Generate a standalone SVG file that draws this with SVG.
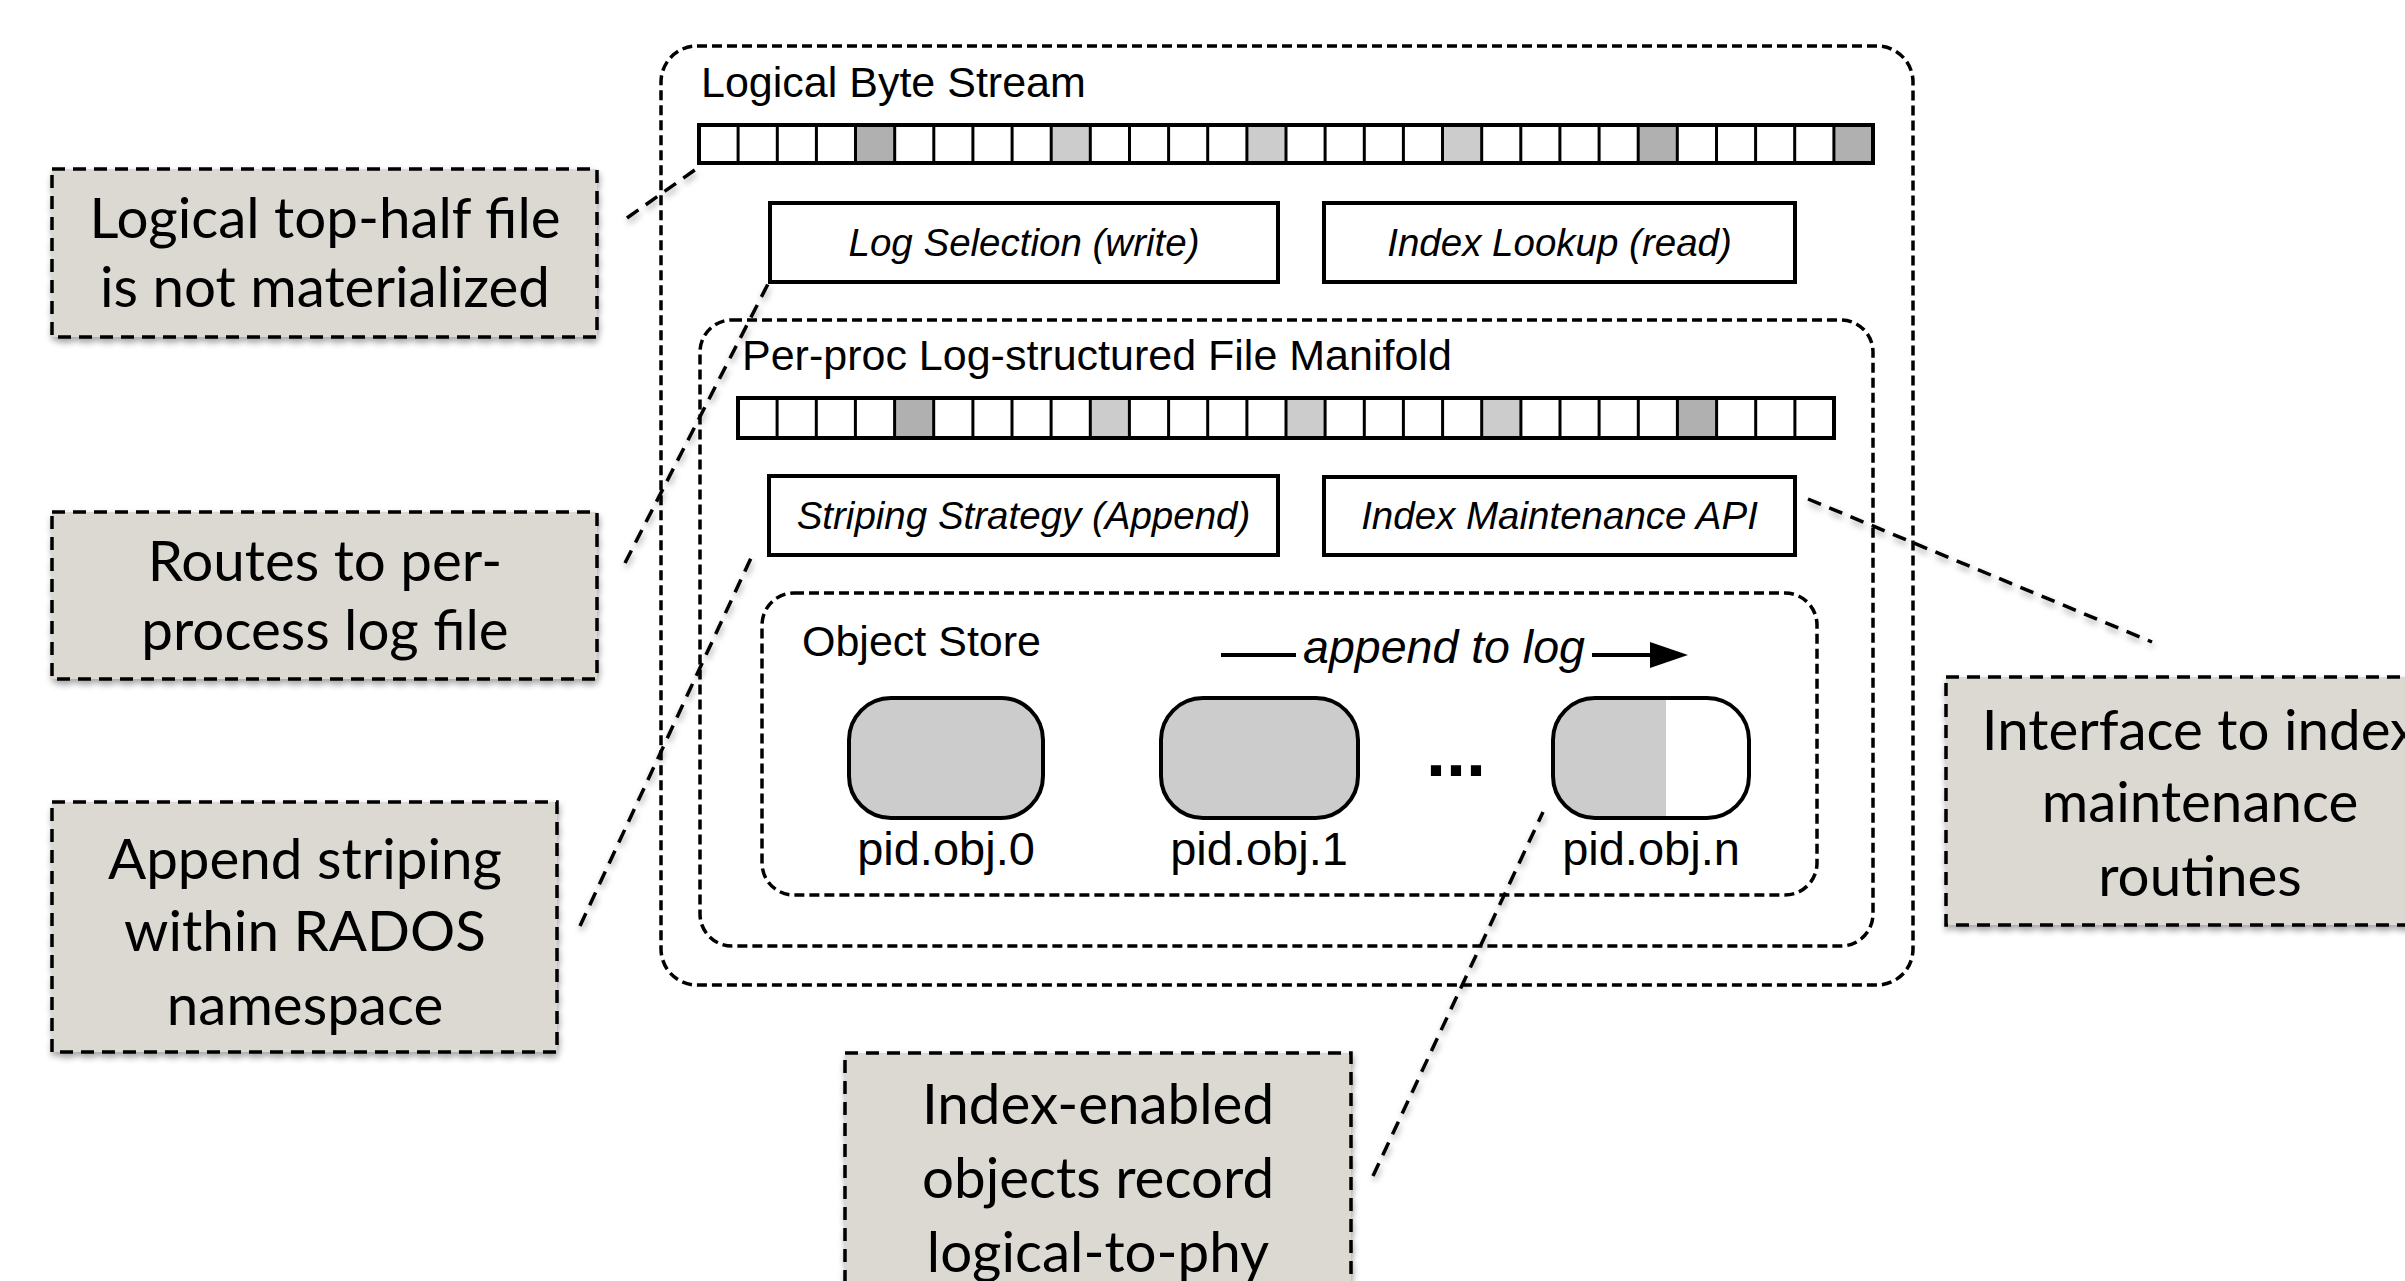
<svg xmlns="http://www.w3.org/2000/svg" width="2405" height="1281" viewBox="0 0 2405 1281">
<style>
.cont{fill:none;stroke:#000;stroke-width:3.5;stroke-dasharray:10 5}
.box{fill:#fff;stroke:#000;stroke-width:4}
.bar{fill:#fff;stroke:#000;stroke-width:4}
.div{fill:none;stroke:#000;stroke-width:3}
.dk{fill:#b0b0b0}
.lt{fill:#cccccc}
.obj{stroke:#000;stroke-width:4}
.title{font-family:"Liberation Sans",Arial,sans-serif;font-size:43px;fill:#000}
.lbl{font-family:"Liberation Sans",Arial,sans-serif;font-size:38.5px;font-style:italic;fill:#000;text-anchor:middle}
.olbl{font-family:"Liberation Sans",Arial,sans-serif;font-size:47px;fill:#000;text-anchor:middle}
.note{fill:#dbd9d1;stroke:#000;stroke-width:3.5;stroke-dasharray:13 8}
.ntxt{font-family:Lato,"Open Sans",sans-serif;font-size:56.5px;fill:#000;text-anchor:middle}
.conn{fill:none;stroke:#000;stroke-width:3.5;stroke-dasharray:14 9}
</style>
<defs>
<filter id="sh" x="-10%" y="-10%" width="120%" height="130%">
<feDropShadow dx="1" dy="4" stdDeviation="3" flood-color="#000" flood-opacity="0.35"/>
</filter>
<linearGradient id="half" x1="0" y1="0" x2="1" y2="0">
<stop offset="0.579" stop-color="#cccccc"/>
<stop offset="0.579" stop-color="#ffffff"/>
</linearGradient>
</defs>
<rect width="2405" height="1281" fill="#fff"/>

<g id="logical-byte-stream">
<rect class="cont" x="661" y="46" width="1252" height="939" rx="36" ry="36"/>
<text class="title" x="701" y="97">Logical Byte Stream</text>
<g id="top-bar">
<rect class="bar" x="699" y="125" width="1174" height="38"/>
<rect class="dk" x="855.5" y="127" width="39.1" height="34"/>
<rect class="lt" x="1051.2" y="127" width="39.1" height="34"/>
<rect class="lt" x="1246.9" y="127" width="39.1" height="34"/>
<rect class="lt" x="1442.5" y="127" width="39.1" height="34"/>
<rect class="dk" x="1638.2" y="127" width="39.1" height="34"/>
<rect class="dk" x="1833.9" y="127" width="37.1" height="34"/>
<path class="div" d="M738.1 125V163M777.3 125V163M816.4 125V163M855.5 125V163M894.7 125V163M933.8 125V163M972.9 125V163M1012.1 125V163M1051.2 125V163M1090.3 125V163M1129.5 125V163M1168.6 125V163M1207.7 125V163M1246.9 125V163M1286 125V163M1325.1 125V163M1364.3 125V163M1403.4 125V163M1442.5 125V163M1481.7 125V163M1520.8 125V163M1559.9 125V163M1599.1 125V163M1638.2 125V163M1677.3 125V163M1716.5 125V163M1755.6 125V163M1794.7 125V163M1833.9 125V163"/>
</g>
</g>

<g id="log-selection">
<rect class="box" x="770" y="203" width="508" height="79"/>
<text class="lbl" x="1024" y="256">Log Selection (write)</text>
</g>
<g id="index-lookup">
<rect class="box" x="1324" y="203" width="471" height="79"/>
<text class="lbl" x="1559.5" y="256">Index Lookup (read)</text>
</g>

<g id="log-manifold">
<rect class="cont" x="700" y="320" width="1173" height="626" rx="32" ry="32"/>
<text class="title" x="742" y="370">Per-proc Log-structured File Manifold</text>
<g id="manifold-bar">
<rect class="bar" x="738" y="398" width="1096" height="40"/>
<rect class="dk" x="894.6" y="400" width="39.1" height="36"/>
<rect class="lt" x="1090.3" y="400" width="39.1" height="36"/>
<rect class="lt" x="1286" y="400" width="39.1" height="36"/>
<rect class="lt" x="1481.7" y="400" width="39.2" height="36"/>
<rect class="dk" x="1677.4" y="400" width="39.2" height="36"/>
<path class="div" d="M777.1 398V438M816.3 398V438M855.4 398V438M894.6 398V438M933.7 398V438M972.9 398V438M1012 398V438M1051.1 398V438M1090.3 398V438M1129.4 398V438M1168.6 398V438M1207.7 398V438M1246.9 398V438M1286 398V438M1325.1 398V438M1364.3 398V438M1403.4 398V438M1442.6 398V438M1481.7 398V438M1520.9 398V438M1560 398V438M1599.1 398V438M1638.3 398V438M1677.4 398V438M1716.6 398V438M1755.7 398V438M1794.9 398V438"/>
</g>
</g>

<g id="striping-strategy">
<rect class="box" x="769" y="476" width="509" height="79"/>
<text class="lbl" x="1023.5" y="529">Striping Strategy (Append)</text>
</g>
<g id="index-maintenance-api">
<rect class="box" x="1324" y="477" width="471" height="78"/>
<text class="lbl" x="1559.5" y="529">Index Maintenance API</text>
</g>

<g id="object-store">
<rect class="cont" x="762" y="593" width="1055" height="302" rx="32" ry="32"/>
<text class="title" x="802" y="656">Object Store</text>
<g id="append-arrow">
<path d="M1221 655H1296" stroke="#000" stroke-width="4" fill="none"/>
<path d="M1592 655H1655" stroke="#000" stroke-width="4" fill="none"/>
<path d="M1650 642L1688 655L1650 668Z" fill="#000"/>
<text x="1444" y="663" font-family="Liberation Sans, Arial, sans-serif" font-size="46.5" font-style="italic" text-anchor="middle">append to log</text>
</g>
</g>

<g id="pid-obj-0">
<rect class="obj" x="849" y="698" width="194" height="120" rx="42" ry="42" fill="#cccccc"/>
<text class="olbl" x="946" y="865">pid.obj.0</text>
</g>
<g id="pid-obj-1">
<rect class="obj" x="1161" y="698" width="197" height="120" rx="42" ry="42" fill="#cccccc"/>
<text class="olbl" x="1259" y="865">pid.obj.1</text>
</g>
<g id="ellipsis">
<text x="1456" y="776" font-family="Liberation Sans, Arial, sans-serif" font-size="72" font-weight="bold" text-anchor="middle">...</text>
</g>
<g id="pid-obj-n">
<rect class="obj" x="1553" y="698" width="196" height="120" rx="42" ry="42" fill="url(#half)"/>
<text class="olbl" x="1651" y="865">pid.obj.n</text>
</g>

<g id="connectors" filter="url(#sh)">
<path class="conn" d="M627 218L699 167"/>
<path class="conn" d="M625 563L768 284"/>
<path class="conn" d="M580 926L751 558"/>
<path class="conn" d="M1808 499L2152 642"/>
<path class="conn" d="M1373 1176L1543 812"/>
</g>

<g id="note-top-half" filter="url(#sh)">
<rect class="note" x="52" y="169" width="545" height="168"/>
<text class="ntxt" x="325" y="238">Logical top-half file</text>
<text class="ntxt" x="325" y="307">is not materialized</text>
</g>
<g id="note-routes" filter="url(#sh)">
<rect class="note" x="52" y="512" width="545" height="167"/>
<text class="ntxt" x="325" y="581">Routes to per-</text>
<text class="ntxt" x="325" y="650">process log file</text>
</g>
<g id="note-append" filter="url(#sh)">
<rect class="note" x="52" y="802" width="505" height="250"/>
<text class="ntxt" x="305" y="879">Append striping</text>
<text class="ntxt" x="305" y="951">within RADOS</text>
<text class="ntxt" x="305" y="1025">namespace</text>
</g>
<g id="note-interface" filter="url(#sh)">
<rect class="note" x="1946" y="677" width="507" height="248"/>
<text class="ntxt" x="2200" y="750">Interface to index</text>
<text class="ntxt" x="2200" y="822">maintenance</text>
<text class="ntxt" x="2200" y="896">routines</text>
</g>
<g id="note-index-enabled" filter="url(#sh)">
<rect class="note" x="845" y="1053" width="506" height="260"/>
<text class="ntxt" x="1098" y="1124">Index-enabled</text>
<text class="ntxt" x="1098" y="1198">objects record</text>
<text class="ntxt" x="1098" y="1272">logical-to-phy</text>
</g>
</svg>
